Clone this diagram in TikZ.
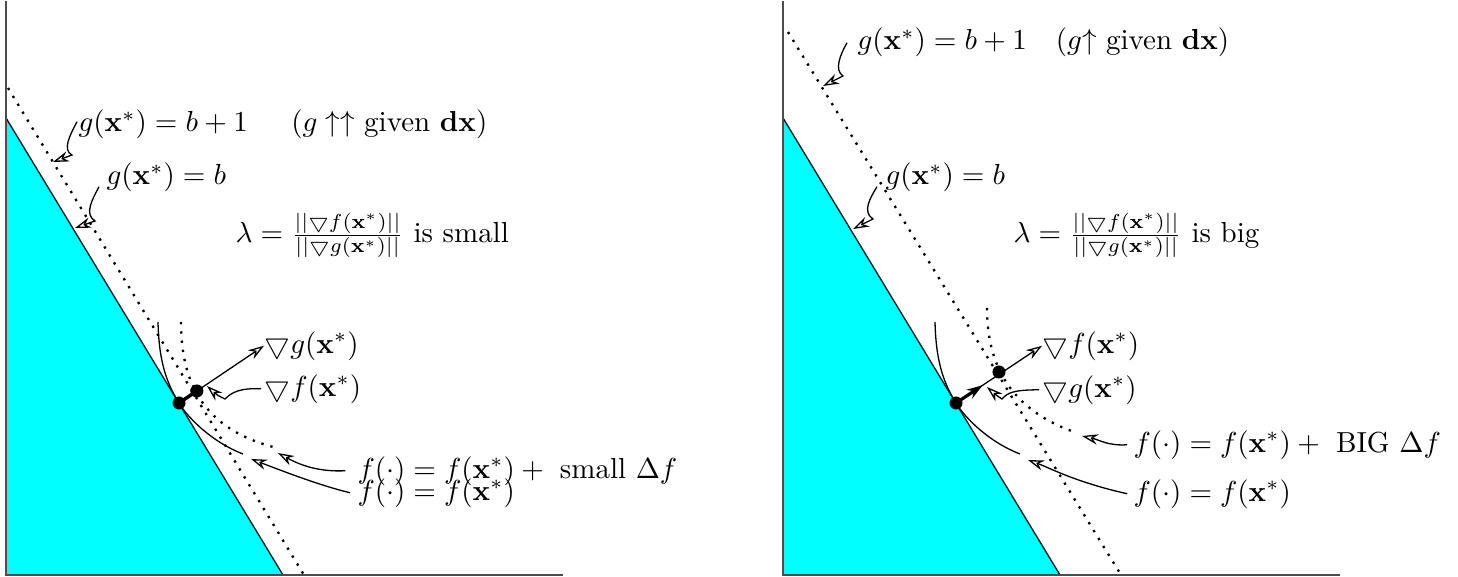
\documentclass[tikz,border=0pt]{standalone}
\usepackage{amsmath,amssymb}
\usetikzlibrary{arrows.meta,calc}
\definecolor{feascyan}{RGB}{0,255,255}

\begin{document}
\begin{tikzpicture}[x=0.345pt,y=-0.345pt,
    axisline/.style={black!70,line width=0.7pt},
    boundary/.style={black,line width=0.45pt},
    dotline/.style={line width=0.8pt,dash pattern=on 0.8pt off 2.4pt},
    fcurve/.style={line width=0.45pt},
    ptr/.style={-{Stealth[open,length=5.5pt,width=3.6pt,inset=1.8pt]},line width=0.45pt},
    lbl/.style={inner sep=0pt,anchor=base west},
    blob/.style={circle,fill=black,inner sep=0pt,minimum size=4.5pt}]
  \useasboundingbox (0,0) rectangle (1458,577);

  % ---------- left: lambda is small ----------
  \fill[feascyan] (6,118) -- (283,575) -- (6,575) -- cycle;
  \draw[boundary] (6,118) -- (283,575);
  \draw[axisline] (6,1) -- (6,575) -- (563,575);
  % g(x*) = b+1, dotted
  \draw[dotline] (8,88) -- (304,575);
  % level sets of f
  \draw[fcurve] (158,322) .. controls (159,365) and (168,385) .. (179,403)
    .. controls (188,418) and (212,442) .. (243,454);
  \draw[dotline] (181,322) .. controls (181,385) and (205,430) .. (277,448);
  % labels
  \node[lbl] (gbonel) at (78,132) {$g(\mathbf{x}^*) = b+1$\hspace{15pt}$(g\uparrow\uparrow$ given $\mathbf{dx})$};
  \node[lbl] (gbl) at (106,185) {$g(\mathbf{x}^*) = b$};
  \node[lbl] (laml) at (235,243) {$\lambda = \frac{||\bigtriangledown f(\mathbf{x}^*)||}{||\bigtriangledown g(\mathbf{x}^*)||}$ is small};
  \node[lbl] (dgl) at (264,353) {$\bigtriangledown g(\mathbf{x}^*)$};
  \node[lbl] (dfl) at (264,396) {$\bigtriangledown f(\mathbf{x}^*)$};
  \node[lbl] (fsml) at (357,478) {$f(\cdot) = f(\mathbf{x}^*) + {}$ small $\Delta f$};
  \node[lbl] (fzl) at (357,500) {$f(\cdot) = f(\mathbf{x}^*)$};
  % gradients at x*
  \node[blob] (xl) at (179,403) {};
  \node[blob] (fl) at ($(xl)!0.21!(dgl.west)$) {};
  \draw[ptr] (xl) -- (dgl.west);
  \draw[line width=1.2pt] (xl.center) -- (fl.center);
  % pointers
  \coordinate (onbl) at (53,162);
  \coordinate (bdl) at (75,228);
  \coordinate (dftl) at (207,386);
  \coordinate (sml) at (278,453);
  \coordinate (zl) at (251,459);
  \draw[ptr] ([shift={(-1,-3)}]gbonel.west) .. controls (70,135) and (62,150) .. (72,155) -- (onbl);
  \draw[ptr] ([shift={(-7,9)}]gbl.west) .. controls (92,200) and (84,214) .. (95,221) -- (bdl);
  \draw[ptr] ([xshift=-1pt]dfl.west) .. controls (240,388) and (232,392) .. (225,399)
    .. controls (217,395) .. (dftl);
  \draw[ptr] ([xshift=-4pt]fsml.west) .. controls (318,472) and (300,465) .. (sml);
  \draw[ptr] ([xshift=-2.4pt]fzl.west) .. controls (318,485) and (280,470) .. (zl);

  % ---------- right: lambda is big ----------
  \fill[feascyan] (783,118) -- (1060,575) -- (783,575) -- cycle;
  \draw[boundary] (783,118) -- (1060,575);
  \draw[axisline] (783,1) -- (783,575) -- (1340,575);
  % g(x*) = b+1, dotted
  \draw[dotline] (788,32) -- (1121,575);
  % level sets of f
  \draw[fcurve] (935,322) .. controls (936,365) and (945,385) .. (956,403)
    .. controls (965,418) and (989,442) .. (1020,454);
  \draw[dotline] (987,308) .. controls (987,365) and (1010,410) .. (1077,433);
  % labels
  \node[lbl] (gboner) at (857,50) {$g(\mathbf{x}^*) = b+1$\quad$(g{\uparrow}$ given $\mathbf{dx})$};
  \node[lbl] (gbr) at (885,185) {$g(\mathbf{x}^*) = b$};
  \node[lbl] (lamr) at (1013,243) {$\lambda = \frac{||\bigtriangledown f(\mathbf{x}^*)||}{||\bigtriangledown g(\mathbf{x}^*)||}$ is big};
  \node[lbl] (dfr) at (1042,353) {$\bigtriangledown f(\mathbf{x}^*)$};
  \node[lbl] (dgr) at (1042,397) {$\bigtriangledown g(\mathbf{x}^*)$};
  \node[lbl] (fbigr) at (1133,452) {$f(\cdot) = f(\mathbf{x}^*) + {}$ BIG $\Delta f$};
  \node[lbl] (fzr) at (1133,501) {$f(\cdot) = f(\mathbf{x}^*)$};
  % gradients at x*
  \node[blob] (xr) at (956,403) {};
  \node[blob] (fr) at (999,372) {};
  \coordinate (gr) at ($(xr)!0.31!(dfr.west)$);
  \draw[ptr] (xr) -- (dfr.west);
  \draw[ptr,line width=1.1pt] (xr.center) -- (gr);
  % pointers
  \coordinate (onbr) at (823,86);
  \coordinate (bdr) at (853,229);
  \coordinate (dgtr) at (987,387);
  \coordinate (bigr) at (1082,436);
  \coordinate (zr) at (1028,460);
  \draw[ptr] ([shift={(-10,0)}]gboner.west) .. controls (840,55) and (834,70) .. (843,76) -- (onbr);
  \draw[ptr] ([shift={(-8,9)}]gbr.west) .. controls (870,198) and (862,212) .. (873,219) -- (bdr);
  \draw[ptr] ([xshift=-1pt]dgr.west) .. controls (1015,390) and (1008,392) .. (1002,399)
    .. controls (996,395) .. (dgtr);
  \draw[ptr] ([xshift=-2pt]fbigr.west) .. controls (1108,446) and (1100,440) .. (bigr);
  \draw[ptr] ([xshift=-2pt]fzr.west) .. controls (1075,482) and (1050,468) .. (zr);
\end{tikzpicture}
\end{document}
